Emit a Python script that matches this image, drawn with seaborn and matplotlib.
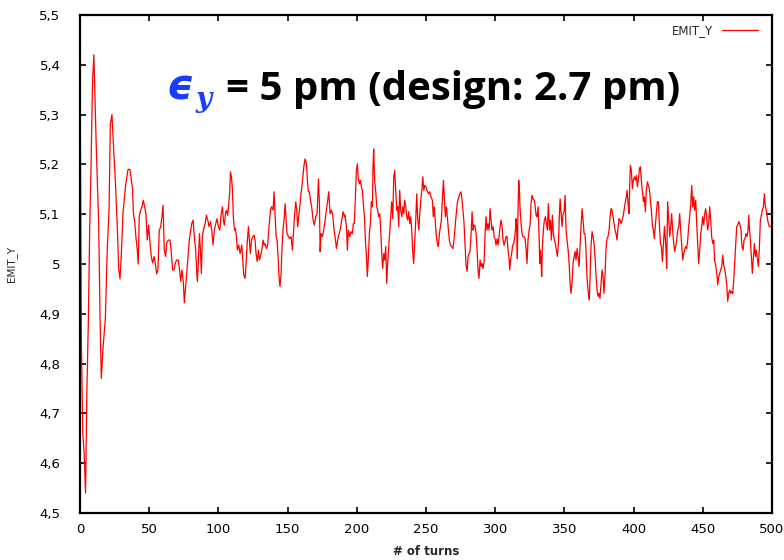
import matplotlib
matplotlib.use("Agg")
import matplotlib.pyplot as plt
from matplotlib.ticker import FuncFormatter
import seaborn as sns
import pandas as pd

# Vertical emittance per turn (pm)
turns = [
    0, 1, 2, 3, 4, 5, 6, 7, 8, 9, 10, 11.8, 13.5, 14.5, 15.4, 16.6, 18.3, 19.7, 21, 21.9,
    23.1, 24.3, 25.5, 27, 28, 28.9, 29.9, 31, 33, 34.7,
    36.1, 38.0, 38.5, 39.7, 40.4, 41.4, 42.1, 42.8, 43.8, 44.8, 45.7, 46.7, 47.7, 48.6, 49.6,
    50.6, 51.5, 52.5, 53.5, 54.4, 55.4, 56.3, 57.3, 58.3, 59.2, 60.0, 60.9, 61.9, 62.6, 63.8,
    65.0, 66.0, 66.9, 67.9, 68.9, 69.8, 71.0, 72.2, 72.7, 73.7, 74.7, 75.4,
    77.3, 78.3, 79.0, 80.0, 80.7, 81.7, 82.6, 83.6, 84.3, 84.8, 85.5, 86.3, 87.0, 87.7, 88.4,
    89.4, 90.4, 91.3, 92.3, 93.3, 94.2, 95.2, 96.1, 97.1, 98.1, 99.0, 100.0, 101.0, 101.9,
    102.9, 103.6, 104.3, 105.1, 105.8, 106.7, 107.5, 108.2, 108.7, 109.4, 110.1, 110.8, 111.6,
    112.3, 113.0, 113.7, 114.7, 115.7, 116.9, 117.6, 118.3, 119.3, 120.0, 120.7, 121.7, 122.4,
    123.1, 123.9, 124.8, 125.8, 126.5, 127.2, 128.0, 128.9, 129.6, 130.4, 131.3, 132.3, 133.0,
    133.7, 134.7, 135.6, 136.6, 137.6, 138.5, 139.5, 140.2, 140.9, 141.7, 142.4, 143.1, 143.8,
    144.5, 145.3, 146.0, 146.7, 147.4, 148.2, 148.9, 149.6, 150.6, 151.5, 152.5, 153.5, 154.4,
    155.1, 155.9, 156.6, 157.3, 158.0, 158.8, 159.7, 160.7, 161.7, 162.6, 163.6, 164.3, 165.0,
    165.8, 166.5, 167.4, 168.4, 169.4, 170.3, 171.3, 172.3, 173.0, 173.5, 174.2, 175.2, 176.1,
    177.1, 178.0, 179.0, 179.7, 180.7, 181.7, 182.6, 183.6, 184.6, 185.3, 186.2, 187.2, 188.2,
    189.1, 190.1, 191.1,
    191.5, 192.5, 193.2, 193.9, 194.9, 195.8, 196.8, 197.5, 198.2, 199.0, 199.7, 200.4, 201.1,
    201.9, 202.6, 203.3, 204.0, 204.8, 205.5, 206.2, 206.9, 207.6, 208.4, 209.1, 209.8, 210.5,
    211.3, 211.7, 212.2, 212.9, 213.7, 214.4, 215.1, 215.8, 216.6, 217.3, 218.0, 218.7, 219.5,
    220.2, 220.9, 221.6, 222.3, 223.1, 223.8, 224.5, 225.2, 226.0, 226.7, 227.4, 228.1, 228.9,
    229.6, 230.3, 231.0, 231.7, 232.5, 233.2, 233.9, 234.6, 235.4, 236.1, 236.8, 237.5, 238.3,
    239.0, 239.7, 240.4, 241.1, 241.9, 242.6, 243.3, 244.0, 244.8, 245.5, 246.2, 246.9, 247.7,
    248.4, 249.1,
    250.0, 250.7, 251.7, 252.7, 253.6, 254.6, 255.3, 256.0, 256.8, 257.5, 258.2, 258.9, 259.7,
    260.4, 261.1, 261.8, 262.6, 263.3, 264.0, 264.7, 265.4, 266.2, 266.9, 267.6, 268.6, 269.5,
    270.5, 271.2, 271.9, 272.7, 273.4, 274.4, 275.3, 276.1, 276.8, 277.5, 278.2, 278.9, 279.7,
    280.4, 281.1, 281.8, 282.6, 283.3, 284.0, 284.7, 285.5, 286.2, 286.9, 287.6, 288.3, 289.1,
    289.8, 290.5, 291.2, 292.0, 292.7, 293.4, 294.1, 294.8, 295.6, 296.3, 297.0, 297.7, 298.5,
    299.2, 299.9, 300.6, 301.4, 302.1, 302.8, 303.5, 304.2, 305.0, 305.7, 306.4,
    307.1, 307.8, 308.5, 309.3, 310.0, 310.5, 311.2, 311.9, 312.6, 313.4, 314.1, 314.6, 315.1,
    315.5, 316.0, 316.5, 317.0, 317.5, 317.9, 318.7, 319.4, 320.1, 320.8, 321.6, 322.3, 323.0,
    323.7, 324.5, 325.2, 325.9, 326.6, 327.3, 328.1, 328.8, 329.5, 330.2, 331.0, 331.7, 332.2,
    332.6, 333.1, 333.6, 334.1, 334.8, 335.5, 336.3, 337.0, 337.7, 338.4, 339.2, 339.9, 340.6,
    341.3, 342.0, 342.8, 343.5, 344.2, 344.9, 345.7, 346.4, 346.9, 347.6, 348.3, 349.0, 349.8,
    350.5, 351.2, 351.9, 352.7, 353.4, 354.1, 354.8, 355.5, 356.3, 357.0, 357.7, 358.4, 359.2,
    359.9, 360.6, 361.3, 362.0, 362.8, 363.5, 364.2,
    364.9, 365.6, 366.3, 367.3, 368.0, 368.5, 369.2, 370.0, 370.7, 371.4, 372.1, 372.9, 373.6,
    374.3, 375.0, 375.7, 376.5, 377.2, 377.9, 378.6, 379.4, 380.1, 380.8, 381.5, 382.3, 383.0,
    383.7, 384.4, 385.1, 385.9, 386.6, 387.3, 388.0, 388.8, 389.5, 390.2, 390.9, 391.7, 392.4,
    393.1, 393.8, 394.5, 395.3, 396.0, 396.7, 397.2, 397.7, 398.4, 399.1, 399.8, 400.6, 401.3,
    402.0, 402.7, 403.5, 404.2, 404.9, 405.6, 406.4, 407.1, 407.8, 408.5, 409.2, 410.0, 410.7,
    411.4, 412.1, 412.9, 413.6, 414.3, 415.0, 415.8, 416.5, 417.2, 417.9, 418.6, 419.4, 420.1,
    420.8, 421.5, 422.3,
    422.7, 423.4, 423.9, 424.6, 425.4, 426.1, 426.8, 427.5, 428.2, 429.0, 429.7, 430.4, 431.1,
    431.9, 432.6, 433.3, 434.0, 434.8, 435.5, 436.2, 436.9, 437.6, 438.4, 439.1, 439.8, 440.5,
    441.3, 442.0, 442.7, 443.4, 444.1, 444.9, 445.6, 446.3, 447.0, 447.8, 448.5, 449.2, 449.9,
    450.7, 451.4, 452.1, 452.8, 453.5, 454.3, 455.0, 455.7, 456.4, 457.2, 457.9, 458.6, 459.3,
    460.1, 460.8, 461.5, 462.2, 462.9, 463.7, 464.4, 465.1, 465.8, 466.6, 467.3, 468.0, 468.7,
    469.5, 470.2, 470.9, 471.6, 472.3, 473.1, 473.8, 474.5, 475.2, 476.0, 476.7,
    477.6, 478.3, 479.1, 479.8, 480.5, 481.2, 482.0, 482.7, 483.2, 483.7, 484.4, 485.1, 485.8,
    486.5, 487.3, 488.0, 488.7, 489.4, 490.2, 490.9, 491.6, 492.3, 493.0, 493.8, 494.5, 495.2,
    495.9, 496.7, 497.4, 498.1, 499.1,
]

emit_y = [
    5.42, 4.84, 4.66, 4.62, 4.54, 4.75, 4.88, 5.07, 5.20, 5.36, 5.42, 5.23, 5.08, 4.89, 4.77,
    4.83, 4.89, 5.03, 5.11, 5.28, 5.30, 5.23, 5.17, 5.07, 4.99, 4.97, 5.02, 5.10, 5.16, 5.19,
    5.19, 5.15, 5.105, 5.08, 5.054, 5.028, 5.00, 5.095, 5.108, 5.115, 5.128, 5.115, 5.10, 5.048,
    5.078, 5.042, 5.015, 5.002, 5.015, 5.002, 4.98, 4.988, 5.068, 5.075, 5.095, 5.118, 5.028,
    5.015, 5.042, 5.048, 5.048, 5.022, 4.988, 4.988, 5.002, 5.008, 5.008, 4.982, 4.965, 4.988,
    4.962, 4.922,
    4.988, 5.021, 5.048, 5.068, 5.081, 5.088, 5.055, 5.028, 4.988, 4.965, 5.001, 5.061, 5.028,
    4.981, 5.055, 5.071, 5.081, 5.098, 5.088, 5.075, 5.085, 5.068, 5.038, 5.068, 5.081, 5.091,
    5.075, 5.068, 5.098, 5.115, 5.088, 5.078, 5.101, 5.108, 5.098, 5.121, 5.145, 5.185, 5.175,
    5.151, 5.095, 5.068, 5.071, 5.055, 5.028, 5.038, 5.021, 5.038, 5.008, 4.978, 4.971, 5.001,
    5.038, 5.075, 5.048, 5.021, 5.048, 5.055, 5.058, 5.048, 5.021, 5.005, 5.028, 5.008, 5.015,
    5.028, 5.048, 5.038,
    5.041, 5.031, 5.038, 5.075, 5.108, 5.115, 5.108, 5.145, 5.101, 5.055, 5.048, 5.015, 4.975,
    4.955, 4.981, 5.035, 5.068, 5.088, 5.121, 5.088, 5.061, 5.055, 5.051, 5.055, 5.028, 5.068,
    5.101, 5.125, 5.108, 5.075, 5.095, 5.115, 5.141, 5.165, 5.195, 5.211, 5.201, 5.168, 5.145,
    5.145, 5.128, 5.115, 5.088, 5.078, 5.095, 5.101, 5.171, 5.121, 5.025, 5.061, 5.055, 5.068,
    5.088, 5.108, 5.128, 5.145, 5.101, 5.108, 5.098, 5.068, 5.048, 5.031, 5.048, 5.061, 5.071,
    5.088, 5.105, 5.095,
    5.098, 5.075, 5.028, 5.068, 5.055, 5.065, 5.061, 5.081, 5.081, 5.135, 5.188, 5.201, 5.171,
    5.161, 5.168, 5.155, 5.148, 5.118, 5.095, 5.048, 5.021, 4.975, 5.015, 5.061, 5.081, 5.125,
    5.115, 5.195, 5.231, 5.168, 5.145, 5.115, 5.108, 5.095, 5.101, 5.068, 5.021, 4.991, 5.021,
    5.008, 5.035, 4.961, 5.001, 5.035, 5.068, 5.095, 5.125, 5.091, 5.175, 5.188, 5.148, 5.108,
    5.115, 5.075, 5.148, 5.108, 5.095, 5.115, 5.101, 5.128, 5.115, 5.095, 5.088, 5.105, 5.081,
    5.095, 5.068, 5.025, 5.001, 5.048, 5.088, 5.141, 5.091, 5.068, 5.101, 5.128, 5.145, 5.175,
    5.148, 5.158,
    5.155, 5.148, 5.141, 5.145, 5.135, 5.128, 5.095, 5.115, 5.081, 5.055, 5.041, 5.035, 5.061,
    5.075, 5.088, 5.128, 5.168, 5.128, 5.095, 5.115, 5.095, 5.068, 5.048, 5.038, 5.035, 5.031,
    5.055, 5.081, 5.101, 5.125, 5.131, 5.141, 5.145, 5.128, 5.105, 5.081, 5.038, 4.998, 4.985,
    5.015, 5.021, 5.025, 5.061, 5.105, 5.068, 5.078, 5.075, 5.061, 5.028, 4.988, 4.971, 5.008,
    4.995, 5.001, 4.991, 5.005, 5.061, 5.095, 5.068, 5.081, 5.068, 5.111, 5.088, 5.068, 5.075,
    5.055, 5.051, 5.038, 5.051, 5.038, 5.055, 5.075, 5.088, 5.075, 5.048, 5.038,
    5.045, 5.055, 5.055, 5.028, 5.011, 4.988, 5.011, 5.021, 5.038, 5.041, 5.055, 5.068, 5.091,
    5.075, 5.011, 5.108, 5.168, 5.148, 5.115, 5.081, 5.061, 5.055, 5.055, 5.051, 5.031, 5.001,
    5.048, 5.068, 5.078, 5.121, 5.138, 5.131, 5.128, 5.118, 5.098, 5.095, 5.115, 5.055, 5.001,
    5.028, 5.008, 4.975, 5.035, 5.068, 5.088, 5.095, 5.081, 5.068, 5.121, 5.068, 5.088, 5.048,
    5.098, 5.061, 5.048, 5.041, 5.028, 5.015, 5.041, 5.101, 5.131, 5.101, 5.075, 5.101, 5.105,
    5.138, 5.068, 5.048, 5.028, 5.001, 4.961, 4.941, 4.961, 5.001, 5.015, 5.025, 5.008, 5.031,
    5.015, 4.995, 5.035, 5.075, 5.111, 5.088, 5.061,
    5.061, 5.028, 4.975, 4.941, 4.928, 4.968, 5.035, 5.065, 5.055, 5.041, 5.015, 4.975, 4.948,
    4.935, 4.941, 4.931, 4.961, 4.988, 4.975, 4.941, 4.981, 5.031, 5.051, 5.055, 5.068, 5.095,
    5.111, 5.108, 5.095, 5.081, 5.068, 5.061, 5.048, 5.075, 5.091, 5.088, 5.081, 5.088, 5.095,
    5.108, 5.121, 5.131, 5.148, 5.121, 5.101, 5.161, 5.198, 5.188, 5.151, 5.168, 5.175, 5.168,
    5.178, 5.155, 5.171, 5.191, 5.195, 5.168, 5.145, 5.125, 5.135, 5.105, 5.148, 5.165, 5.158,
    5.151, 5.128, 5.105, 5.078, 5.068, 5.051, 5.081, 5.105, 5.125, 5.125, 5.081, 5.041, 5.035,
    5.005, 5.038, 5.075,
    5.061, 5.028, 4.991, 5.125, 5.088, 5.055, 5.075, 5.101, 5.068, 5.041, 5.025, 5.035, 5.048,
    5.068, 5.075, 5.101, 5.068, 5.035, 5.008, 5.021, 5.028, 5.035, 5.031, 5.048, 5.075, 5.095,
    5.121, 5.158, 5.115, 5.135, 5.108, 5.128, 5.081, 5.041, 5.001, 5.028, 5.061, 5.075, 5.095,
    5.078, 5.101, 5.111, 5.095, 5.068, 5.081, 5.115, 5.088, 5.055, 5.041, 5.048, 5.005, 4.998,
    4.981, 4.958, 4.975, 4.981, 4.988, 4.995, 5.018, 4.998, 4.991, 4.975, 4.958, 4.925, 4.941,
    4.948, 4.941, 4.945, 4.941, 4.965, 5.005, 5.041, 5.075, 5.078, 5.085, 5.081,
    5.068, 5.035, 5.028, 5.048, 5.051, 5.061, 5.055, 5.068, 5.098, 5.071, 5.048, 5.015, 4.981,
    5.011, 5.041, 5.015, 5.028, 5.011, 4.995, 5.035, 5.088, 5.098, 5.108, 5.115, 5.141, 5.115,
    5.108, 5.091, 5.081, 5.075, 5.075,
]

x_ticks = list(range(0, 501, 50))
y_ticks = [4.5, 4.6, 4.7, 4.8, 4.9, 5.0, 5.1, 5.2, 5.3, 5.4, 5.5]

df = pd.DataFrame({"turn": turns, "EMIT_Y": emit_y})

sns.set_theme(style="white")
plt.rcParams["font.family"] = ["DejaVu Sans"]

fig = plt.figure(figsize=(7.84, 5.6), dpi=100)
ax = fig.add_axes([80 / 784, 1 - 513 / 560, 692 / 784, 498 / 560])

sns.lineplot(data=df, x="turn", y="EMIT_Y", ax=ax, color="#ff0000",
             linewidth=0.9, label="EMIT_Y", sort=False, estimator=None)

ax.set_xlim(0, 500)
ax.set_ylim(4.5, 5.5)
ax.set_xticks(x_ticks)
ax.set_yticks(y_ticks)


def comma_fmt(v, _pos):
    s = f"{v:g}"
    return s.replace(".", ",")


ax.yaxis.set_major_formatter(FuncFormatter(comma_fmt))
ax.xaxis.set_major_formatter(FuncFormatter(comma_fmt))

for sp in ax.spines.values():
    sp.set_visible(True)
    sp.set_color("black")
    sp.set_linewidth(1.6)

ax.tick_params(axis="both", which="major", direction="in", length=4, width=1.2,
               top=True, right=True, bottom=True, left=True,
               labelsize=9.5, colors="black")
ax.tick_params(axis="y", pad=14)
ax.tick_params(axis="x", pad=7)

ax.set_xlabel("# of turns", fontsize=8.5, fontweight="bold", labelpad=7)
ax.set_ylabel("EMIT_Y", fontsize=7.5, labelpad=16)

leg = ax.legend(loc="upper right", bbox_to_anchor=(0.992, 1.0), frameon=False,
                fontsize=8.5, markerfirst=False, handlelength=3.0,
                borderaxespad=0.35, handletextpad=0.8)

# Annotation: measured vs design vertical emittance
fig.text(166 / 784, 1 - 100 / 560, "\u03f5", color="#1a3cff", fontsize=30,
         fontweight="bold", fontstyle="italic", family="DejaVu Sans",
         ha="left", va="baseline")
fig.text(196 / 784, 1 - 107 / 560, "y", color="#1a3cff", fontsize=20,
         fontweight="bold", fontstyle="italic", family="DejaVu Serif",
         ha="left", va="baseline")
fig.text(226 / 784, 1 - 100 / 560, "= 5 pm (design: 2.7 pm)", color="black",
         fontsize=29, fontweight="bold", family="Open Sans", ha="left", va="baseline")

fig.savefig("out.png", dpi=100, facecolor="white")
